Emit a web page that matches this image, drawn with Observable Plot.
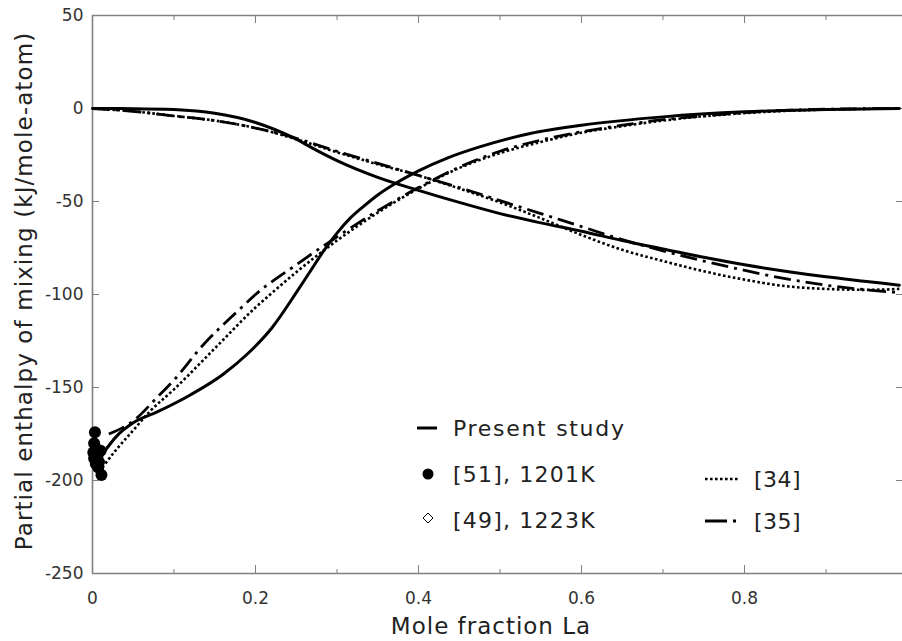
<!DOCTYPE html>
<html>
<head>
<meta charset="utf-8">
<script src="https://cdn.jsdelivr.net/npm/d3@7"></script>
<script src="https://cdn.jsdelivr.net/npm/@observablehq/plot@0.6"></script>
<style>
  html, body { margin: 0; padding: 0; background: #fff; }
  #chart svg { display: block; }
</style>
</head>
<body>
<div id="chart"></div>
<script>
// ---- data ----
// Present study, La partial enthalpy (rising branch)
const presentLaX = [0.012,0.03,0.05,0.08,0.12,0.16,0.19,0.22,0.25,0.265,0.283,0.3,0.315,0.333,0.35,0.369,0.4,0.436,0.476,0.537,0.6,0.7,0.8,0.9,0.99];
const presentLaY = [-186,-176,-169,-163,-154,-143,-132,-118,-99,-89,-77,-67,-59.5,-52.5,-46.5,-41,-33.5,-26.5,-20.5,-13.4,-9,-4.5,-1.8,-0.5,0];
// Present study, other component (falling branch)
const presentFallX = [0,0.05,0.1,0.15,0.2,0.25,0.275,0.3,0.35,0.4,0.45,0.5,0.55,0.6,0.65,0.7,0.75,0.8,0.85,0.9,0.95,0.99];
const presentFallY = [0,-0.1,-0.6,-2.6,-7.5,-16.5,-22.5,-28,-37,-44,-50.5,-56.5,-61.5,-66,-71,-75.5,-80,-84,-87.5,-90.5,-93,-95];
// [34] (dotted)
const fallX = [0,0.05,0.1,0.15,0.2,0.25,0.3,0.35,0.4,0.45,0.5,0.55,0.6,0.65,0.7,0.75,0.8,0.85,0.9,0.95,0.99];
const ref34FallY = [0,-1.5,-4,-6.5,-10.5,-16.5,-23.5,-30,-36,-43,-50.5,-59,-68,-76,-82,-87.5,-92,-95.5,-97,-97.5,-97];
const ref34RiseX = [0.012,0.03,0.05,0.07,0.1,0.15,0.2,0.218,0.25,0.3,0.35,0.4,0.45,0.5,0.55,0.6,0.65,0.7,0.75,0.8,0.85,0.9,0.95,0.99];
const ref34RiseY = [-193,-183,-173,-163,-151,-129,-107,-100,-88,-71,-56,-43,-32,-24,-18,-13,-9.5,-6.5,-4.2,-2.5,-1.3,-0.6,-0.2,0];
// [35] (dash-dot)
const ref35FallY = [0,-1.5,-4,-6.5,-10.5,-16,-23,-29.5,-36,-42.5,-49.5,-56.5,-63.5,-70.5,-76.5,-82,-87,-91.5,-95,-97.5,-99];
const ref35RiseX = [0.02,0.05,0.08,0.1,0.136,0.178,0.2,0.25,0.3,0.35,0.4,0.45,0.5,0.55,0.6,0.65,0.7,0.75,0.8,0.85,0.9,0.99];
const ref35RiseY = [-175,-168,-155,-146,-127,-109,-100,-84,-69,-55,-42.5,-31.5,-23,-17,-12.5,-9,-6,-4,-2.2,-1,-0.4,0];
// [51], 1201K experimental points
const exp51X = [0.003,0.002,0.001,0.002,0.005,0.006,0.008,0.010,0.007,0.011,0.004];
const exp51Y = [-174,-180,-185,-188,-183,-187,-190,-184,-193,-197,-191];
// ticks
const xMajorTicks = [0, 0.2, 0.4, 0.6, 0.8];
const xMinorTicks = [0.1, 0.3, 0.5, 0.7, 0.9];
const yTicks = [50, 0, -50, -100, -150, -200, -250];
const xTitle = "Mole fraction La";
const yTitle = "Partial enthalpy of mixing (kJ/mole-atom)";
const legendLabels = ["Present study", "[51], 1201K", "[49], 1223K", "[34]", "[35]"];

// ---- build tables ----
const zip = (xs, ys) => xs.map((x, i) => ({x, y: ys[i]}));
const sPresentLa = zip(presentLaX, presentLaY);
const sPresentFall = zip(presentFallX, presentFallY);
const s34Fall = zip(fallX, ref34FallY);
const s34Rise = zip(ref34RiseX, ref34RiseY);
const s35Fall = zip(fallX, ref35FallY);
const s35Rise = zip(ref35RiseX, ref35RiseY);
const pts51 = zip(exp51X, exp51Y);

const FONT = "'DejaVu Sans', 'Noto Sans', sans-serif";
const AX = "#808080";
const DOT_DASH = "2.6,2.4";
const DASHDOT_DASH = "17,6,3,6";
const dotted = {stroke: "#000", strokeWidth: 2.6, strokeDasharray: DOT_DASH, strokeLinecap: "butt", curve: "monotone-x"};
const dashdot = {stroke: "#000", strokeWidth: 2.8, strokeDasharray: DASHDOT_DASH, strokeLinecap: "butt", curve: "monotone-x"};
const solid = {stroke: "#000", strokeWidth: 3, curve: "monotone-x"};
const fmt = d => String(d);

const chart = Plot.plot({
  width: 902,
  height: 641,
  marginLeft: 92,
  marginRight: 0,
  marginTop: 15,
  marginBottom: 68,
  x: {domain: [0, 1], range: [92, 907]},
  y: {domain: [-250, 50], range: [573, 15]},
  style: {fontFamily: FONT, fontSize: "17px", color: "#333", background: "#fff", overflow: "hidden"},
  marks: [
    // frame lines
    Plot.ruleY([50, -250], {stroke: AX, strokeWidth: 1.6}),
    Plot.ruleX([0, 1], {stroke: AX, strokeWidth: 1.6}),
    // bottom ticks (inward)
    Plot.axisX({anchor: "bottom", ticks: xMajorTicks, tickSize: 8, dy: -8, stroke: AX, tickFormat: () => "", label: null}),
    Plot.axisX({anchor: "bottom", ticks: xMinorTicks, tickSize: 4, dy: -4, stroke: AX, tickFormat: () => "", label: null}),
    Plot.axisX({anchor: "bottom", ticks: xMajorTicks, tickSize: 0, tickPadding: 18, fill: "#333", label: null, fontSize: 17, tickFormat: fmt}),
    // top ticks (inward)
    Plot.axisX({anchor: "top", ticks: xMajorTicks, tickSize: 7, dy: 7, stroke: AX, tickFormat: () => "", label: null}),
    Plot.axisX({anchor: "top", ticks: xMinorTicks, tickSize: 4, dy: 4, stroke: AX, tickFormat: () => "", label: null}),
    // left ticks (inward)
    Plot.axisY({anchor: "left", ticks: yTicks, tickSize: 7, dx: 7, stroke: AX, tickFormat: () => "", label: null}),
    Plot.axisY({anchor: "left", ticks: yTicks, tickSize: 0, tickPadding: 9, fill: "#333", label: null, fontSize: 17, tickFormat: fmt}),
    // right ticks (inward, mostly off-canvas)
    Plot.axisY({anchor: "right", ticks: yTicks, tickSize: 7, dx: -7, stroke: AX, tickFormat: () => "", label: null}),
    // curves
    Plot.line(s34Fall, {x: "x", y: "y", ...dotted}),
    Plot.line(s34Rise, {x: "x", y: "y", ...dotted}),
    Plot.line(s35Fall, {x: "x", y: "y", ...dashdot}),
    Plot.line(s35Rise, {x: "x", y: "y", ...dashdot}),
    Plot.line(sPresentFall, {x: "x", y: "y", ...solid}),
    Plot.line(sPresentLa, {x: "x", y: "y", ...solid}),
    Plot.dot(pts51, {x: "x", y: "y", r: 6, fill: "#000"})
  ]
});

document.getElementById("chart").appendChild(chart);

// ---- titles and legend (annotation layer) ----
const svg = d3.select(chart);
svg.append("text")
  .attr("x", 491).attr("y", 634)
  .attr("text-anchor", "middle")
  .style("font-family", FONT).style("font-size", "23px").style("letter-spacing", "1px").attr("fill", "#222")
  .text(xTitle);
svg.append("text")
  .attr("transform", "translate(32,291) rotate(-90)")
  .attr("text-anchor", "middle")
  .style("font-family", FONT).style("font-size", "23px").style("letter-spacing", "1.1px").attr("fill", "#222")
  .text(yTitle);

const lg = svg.append("g")
  .attr("text-anchor", "start")
  .style("font-family", FONT).style("font-size", "22px").attr("fill", "#222");
// Present study
lg.append("line").attr("x1", 417).attr("x2", 437).attr("y1", 428).attr("y2", 428).attr("stroke", "#000").attr("stroke-width", 3);
lg.append("text").attr("x", 453).attr("y", 436).style("letter-spacing", "1.7px").text(legendLabels[0]);
// [51]
lg.append("circle").attr("cx", 428).attr("cy", 474).attr("r", 5.5).attr("fill", "#000");
lg.append("text").attr("x", 453).attr("y", 482).style("letter-spacing", "1.2px").text(legendLabels[1]);
// [49]
lg.append("path").attr("d", "M428,513 L433,518 L428,523 L423,518 Z").attr("fill", "none").attr("stroke", "#000").attr("stroke-width", 1);
lg.append("text").attr("x", 453).attr("y", 528).style("letter-spacing", "1.2px").text(legendLabels[2]);
// [34]
lg.append("line").attr("x1", 705).attr("x2", 738).attr("y1", 479).attr("y2", 479).attr("stroke", "#000").attr("stroke-width", 2.6).attr("stroke-dasharray", DOT_DASH);
lg.append("text").attr("x", 754).attr("y", 487).style("letter-spacing", "0.5px").text(legendLabels[3]);
// [35]
lg.append("line").attr("x1", 705).attr("x2", 738).attr("y1", 521).attr("y2", 521).attr("stroke", "#000").attr("stroke-width", 2.8).attr("stroke-dasharray", "22,6,3,6");
lg.append("text").attr("x", 754).attr("y", 529).style("letter-spacing", "0.5px").text(legendLabels[4]);
</script>
</body>
</html>
